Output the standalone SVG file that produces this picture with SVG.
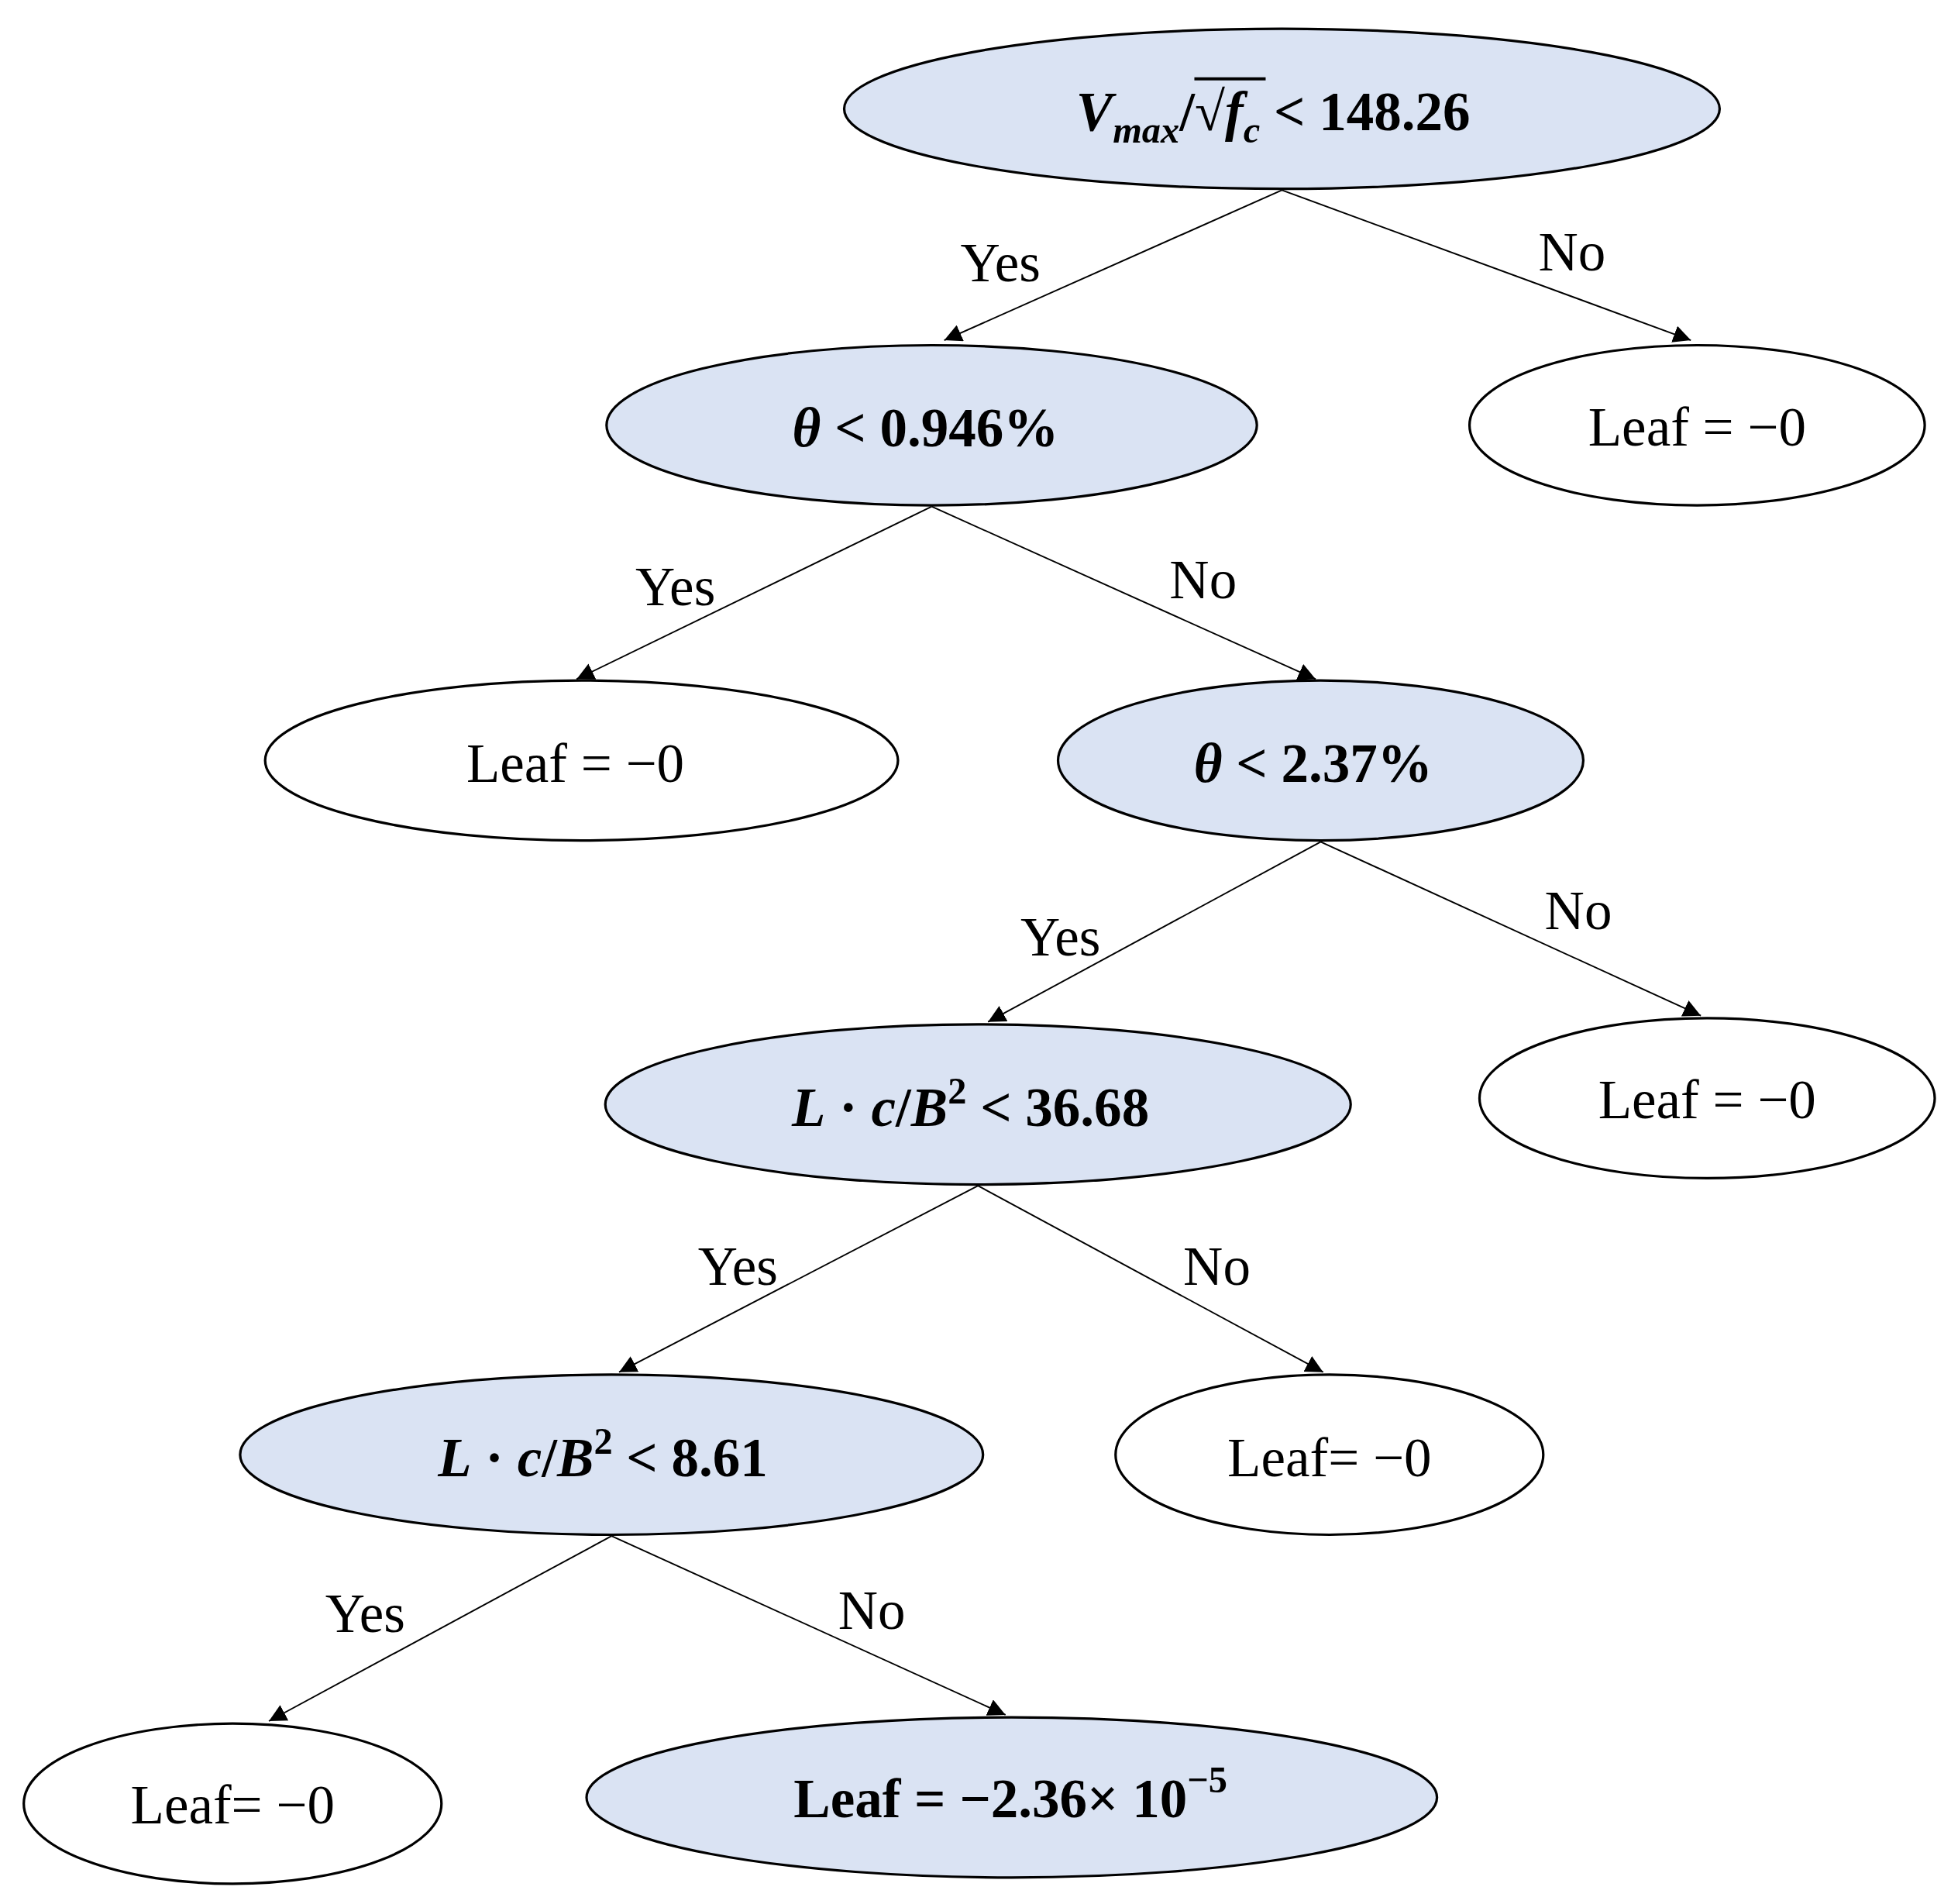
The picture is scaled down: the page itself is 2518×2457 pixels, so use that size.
<svg xmlns="http://www.w3.org/2000/svg" width="2518" height="2457" viewBox="0 0 2518 2457">
<style>
.n{fill:#dae3f3;stroke:#000;stroke-width:2}
.w{fill:#fff;stroke:#000;stroke-width:2}
.m{font-family:"Liberation Serif",serif;font-weight:bold;font-size:44px;text-anchor:middle}
.i{font-style:italic}
.t{font-family:"Liberation Serif",serif;font-size:44px;text-anchor:middle}
.e{stroke:#000;stroke-width:1.2;fill:none;marker-end:url(#a)}
</style>
<defs><marker id="a" viewBox="0 0 10 10" refX="10" refY="5" markerWidth="14" markerHeight="14" markerUnits="userSpaceOnUse" orient="auto"><path d="M0,0L10,5L0,10z"/></marker></defs>
<rect width="2518" height="2457" fill="#fff"/>
<g transform="scale(1.6141)">
<g id="connectors">
<path class="e" d="M1025,152L755,272"/><path class="e" d="M1025,152L1352,272"/>
<path class="e" d="M745,405L461,543"/><path class="e" d="M745,405L1052,543"/>
<path class="e" d="M1056,673L790,817"/><path class="e" d="M1056,673L1360,812"/>
<path class="e" d="M782,948L495,1097"/><path class="e" d="M782,948L1058,1097"/>
<path class="e" d="M489,1228L215,1376"/><path class="e" d="M489,1228L804,1371"/>
<text class="t" x="800" y="225">Yes</text><text class="t" x="1257" y="216">No</text>
<text class="t" x="540" y="484">Yes</text><text class="t" x="962" y="478">No</text>
<text class="t" x="848" y="764">Yes</text><text class="t" x="1262" y="743">No</text>
<text class="t" x="590" y="1027">Yes</text><text class="t" x="973" y="1027">No</text>
<text class="t" x="292" y="1305">Yes</text><text class="t" x="697" y="1302">No</text>
</g>
<g id="n1"><ellipse class="n" cx="1025" cy="87" rx="350" ry="64"/>
<text class="m" x="1018" y="104"><tspan class="i">V</tspan><tspan class="i" font-size="30" dy="10">max</tspan><tspan dy="-10">/√</tspan><tspan class="i">f</tspan><tspan class="i" font-size="30" dy="10">c</tspan><tspan dy="-10"> &lt; 148.26</tspan></text>
<line x1="955" y1="63" x2="1012" y2="63" stroke="#000" stroke-width="2.5"/></g>
<g id="n2"><ellipse class="n" cx="745" cy="340" rx="260" ry="64"/><text class="m" x="740" y="357"><tspan class="i">θ</tspan> &lt; 0.946%</text></g>
<g id="n3"><ellipse class="w" cx="1357" cy="340" rx="182" ry="64"/><text class="t" x="1357" y="356">Leaf = −0</text></g>
<g id="n4"><ellipse class="w" cx="465" cy="608" rx="253" ry="64"/><text class="t" x="460" y="625">Leaf = −0</text></g>
<g id="n5"><ellipse class="n" cx="1056" cy="608" rx="210" ry="64"/><text class="m" x="1050" y="625"><tspan class="i">θ</tspan> &lt; 2.37%</text></g>
<g id="n6"><ellipse class="n" cx="782" cy="883" rx="298" ry="64"/><text class="m" x="776" y="900"><tspan class="i">L</tspan> · <tspan class="i">c</tspan>/<tspan class="i">B</tspan><tspan font-size="30" dy="-18">2</tspan><tspan dy="18"> &lt; 36.68</tspan></text></g>
<g id="n7"><ellipse class="w" cx="1365" cy="878" rx="182" ry="64"/><text class="t" x="1365" y="894">Leaf = −0</text></g>
<g id="n8"><ellipse class="n" cx="489" cy="1163" rx="297" ry="64"/><text class="m" x="482" y="1180"><tspan class="i">L</tspan> · <tspan class="i">c</tspan>/<tspan class="i">B</tspan><tspan font-size="30" dy="-18">2</tspan><tspan dy="18"> &lt; 8.61</tspan></text></g>
<g id="n9"><ellipse class="w" cx="1063" cy="1163" rx="171" ry="64"/><text class="t" x="1063" y="1180">Leaf= −0</text></g>
<g id="n10"><ellipse class="w" cx="186" cy="1442" rx="167" ry="64"/><text class="t" x="186" y="1458">Leaf= −0</text></g>
<g id="n11"><ellipse class="n" cx="809" cy="1437" rx="340" ry="64"/><text class="m" x="808" y="1453">Leaf = −2.36× 10<tspan font-size="30" dy="-20">−5</tspan></text></g>
</g>
</svg>
